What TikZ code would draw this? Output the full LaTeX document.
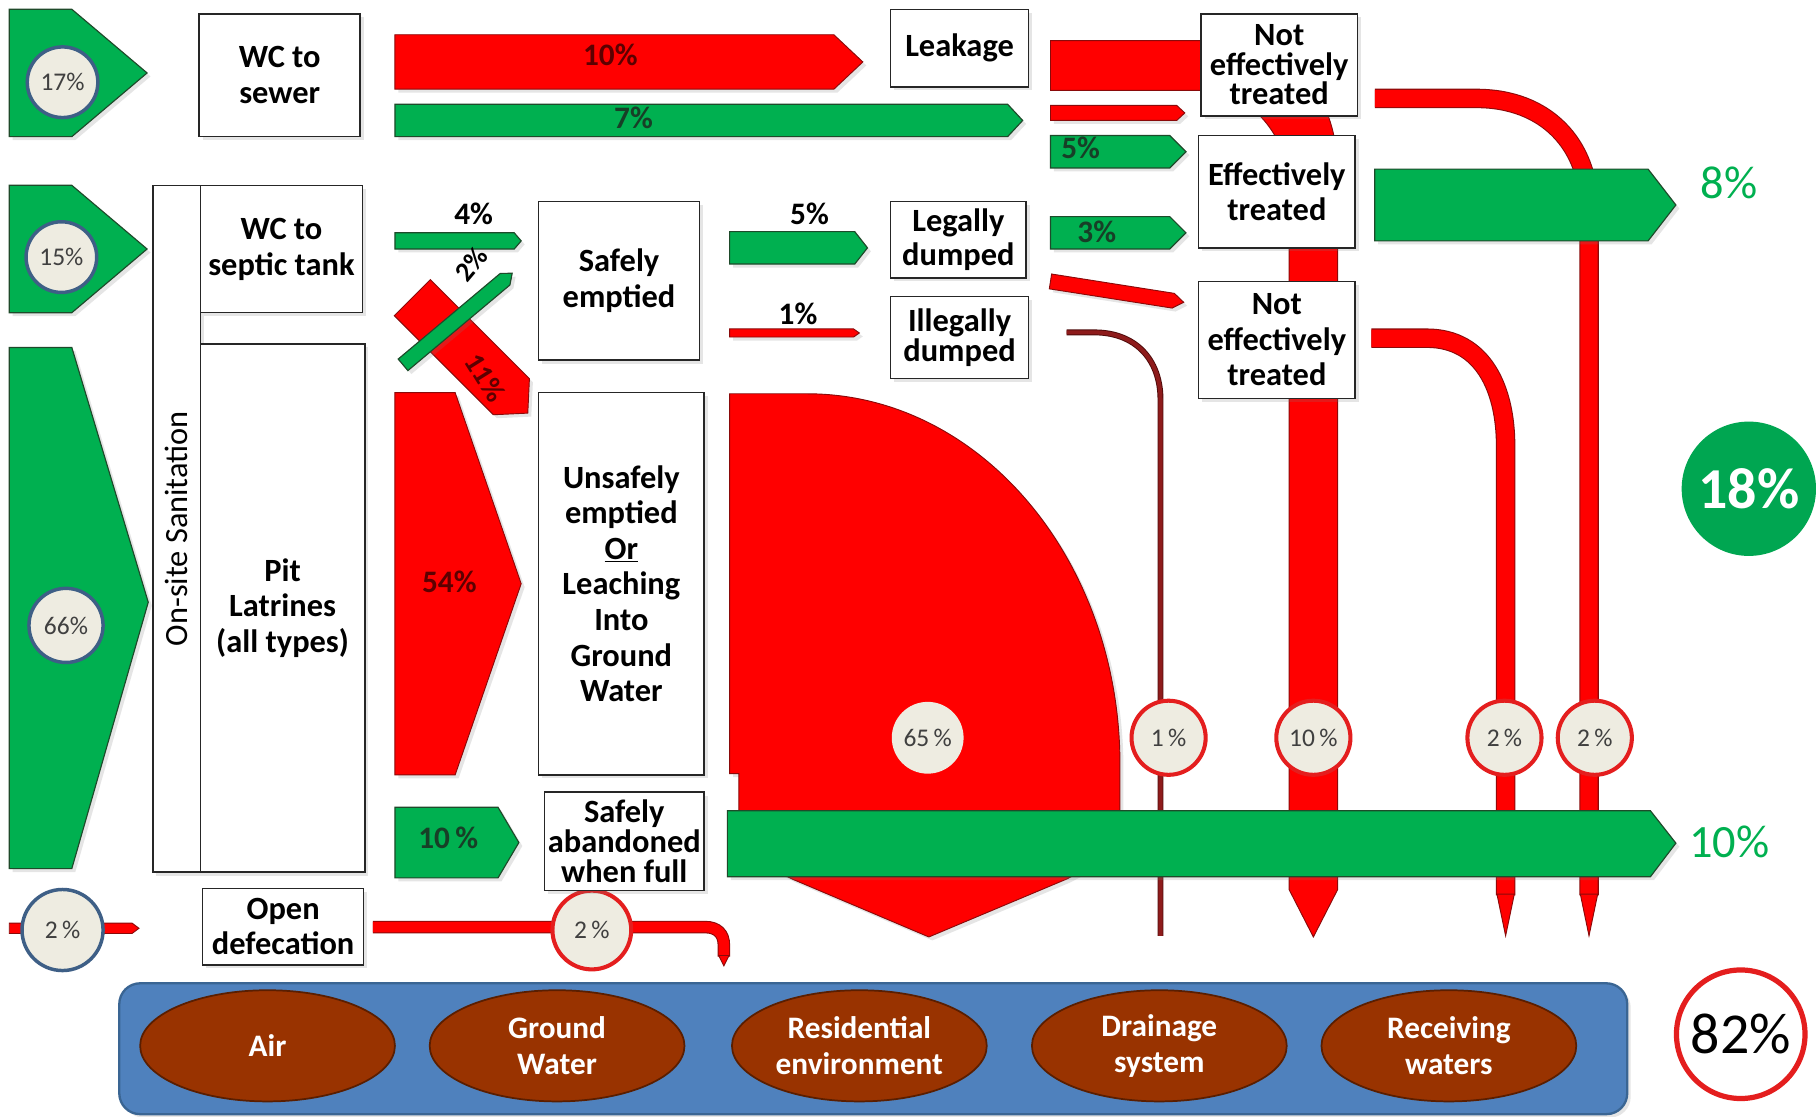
\documentclass[tikz,border=0pt]{standalone}
\usepackage{fontspec}
\setmainfont{Carlito}
\usetikzlibrary{shadows,shapes.geometric}

\definecolor{flowgreen}{HTML}{00B050}
\definecolor{flowgreenedge}{HTML}{1E4A2A}
\definecolor{flowred}{HTML}{FF0000}
\definecolor{flowrededge}{HTML}{8A0A0A}
\definecolor{labelgreen}{HTML}{173F27}
\definecolor{labelred}{HTML}{5C0000}
\definecolor{discfill}{HTML}{EEECE1}
\definecolor{discblue}{HTML}{3E5F86}
\definecolor{discred}{HTML}{E41E1E}
\definecolor{sinkblue}{HTML}{4F81BD}
\definecolor{sinkedge}{HTML}{3A6593}
\definecolor{sinkbrown}{HTML}{993300}
\definecolor{sinkbrownedge}{HTML}{5A1E00}
\definecolor{totalgreen}{HTML}{00A651}
\definecolor{drainred}{HTML}{8E1B1B}
\definecolor{drainedge}{HTML}{4E0A0A}

\begin{document}
\begin{tikzpicture}[x=1pt,y=-1pt,
  softshadow/.style={drop shadow={opacity=0.2,shadow xshift=3pt,shadow yshift=-3pt}},
  stagebox/.style={draw=black!85,line width=1.3pt,fill=white,inner sep=0pt,align=center,
     font=\bfseries\fontsize{28}{31}\selectfont,softshadow},
  gflow/.style={fill=flowgreen,draw=flowgreenedge,line width=1pt,softshadow},
  rflow/.style={fill=flowred,draw=flowrededge,line width=0.8pt,softshadow},
  rbody/.style={fill=flowred,draw=flowrededge,line width=0.8pt},
  pipe/.style={draw=flowrededge,line width=0.9pt,double=flowred,double distance=#1},
  disc/.style={circle,fill=discfill,inner sep=0pt,text=black!75,font=\fontsize{22}{24}\selectfont},
  bluedisc/.style={disc,draw=discblue,line width=3pt},
  reddisc/.style={disc,draw=discred,line width=3.5pt},
  flowlabel/.style={font=\bfseries\fontsize{27}{28}\selectfont,inner sep=0pt},
  sink/.style={ellipse,fill=sinkbrown,draw=sinkbrownedge,line width=1.5pt,
     minimum width=220pt,minimum height=96pt,text=white,align=center,
     font=\bfseries\fontsize{27}{31}\selectfont,inner sep=0pt},
  total/.style={font=\fontsize{40}{42}\selectfont,text=flowgreen,inner sep=0pt},
]
\fill[white] (0,0) rectangle (1568,964);
\useasboundingbox (0,0) rectangle (1568,964);

% ---------- receiving compartments ----------
\node[draw=sinkedge,line width=2pt,fill=sinkblue,rounded corners=18pt,
      minimum width=1302pt,minimum height=113pt,softshadow] (sinks) at (754,905.5) {};
\node[sink] (air)   at (231,903)  {Air};
\node[sink] (gw)    at (481,903)  {Ground\\Water};
\node[sink] (res)   at (742,903)  {Residential\\environment};
\node[sink] (drain) at (1001,903) {Drainage\\system};
\node[sink] (recv)  at (1251,903) {Receiving\\waters};

% ---------- sewer leakage band turning down into the drainage column ----------
\path[rbody] (907,35) -- (1045,35) .. controls (1115,35) and (1155,80) .. (1155,150)
  -- (1155,768) -- (1134,809) -- (1113,768) -- (1113,160)
  .. controls (1113,120) and (1080,78) .. (1040,78) -- (907,78) -- cycle;

% ---------- pipes to receiving waters ----------
\coordinate (pipeAstart) at (1187,85);
\coordinate (pipeAend) at (1372,773);
\draw[pipe=15pt] (pipeAstart) -- (1275,85) .. controls (1335,85) and (1372,125) .. (1372,180) -- (pipeAend);
\path[rbody] (1364.5,772) -- (1372,808) -- (1379.5,772) -- cycle;

\coordinate (pipeBstart) at (1184,292);
\coordinate (pipeBend) at (1300,773);
\draw[pipe=15pt] (pipeBstart) -- (1232,292) .. controls (1280,292) and (1300,335) .. (1300,385) -- (pipeBend);
\path[rbody] (1292.5,772) -- (1300,808) -- (1307.5,772) -- cycle;

% illegal dumping into the drainage system
\coordinate (drainstart) at (921,287);
\coordinate (drainend) at (1002,808);
\draw[draw=drainedge,line width=0.8pt,double=drainred,double distance=3.5pt]
  (drainstart) -- (945,287) .. controls (980,287) and (1002,310) .. (1002,345) -- (drainend);

% ---------- unsafe emptying / leaching mass ----------
\path[rflow] (630,340) -- (697,340) .. controls (846,340) and (967,483) .. (967,660)
  -- (967,735) -- (921,759) -- (802,809) -- (684,759) -- (638,735) -- (638,668) -- (630,668) -- cycle;

% ---------- safely contained outflow ----------
\path[gflow] (628,700) -- (1425,700) -- (1447,728) -- (1425,757) -- (628,757) -- cycle;
\path[gflow] (1187,146) -- (1423,146) -- (1447,177) -- (1423,208) -- (1187,208) -- cycle;

% ---------- open defecation ----------
\path[rbody] (8,797) -- (114,797) -- (120,801.5) -- (114,806) -- (8,806) -- cycle;
\coordinate (odstart) at (322,800.5);
\draw[pipe=9pt] (odstart) -- (609,800.5) .. controls (619,800.5) and (625,806) .. (625,816) -- (625,826);
\path[rbody] (620.5,825) -- (625,834) -- (629.5,825) -- cycle;

% ---------- inputs ----------
\path[gflow] (8,8) -- (62,8) -- (127,63) -- (62,118) -- (8,118) -- cycle;
\path[gflow] (8,160) -- (62,160) -- (127,215) -- (62,270) -- (8,270) -- cycle;
\path[gflow] (8,300) -- (62,300) -- (128,520) -- (62,750) -- (8,750) -- cycle;

% ---------- sewer flows ----------
\path[rflow] (341,30) -- (720,30) -- (745,53.5) -- (720,77) -- (341,77) -- cycle;
\node[flowlabel,text=labelred] at (527,47) {10\%};
\path[gflow] (341,90) -- (870,90) -- (883,104) -- (870,118) -- (341,118) -- cycle;
\node[flowlabel,text=labelgreen] at (547,102) {7\%};

\path[rflow] (907,91) -- (1016,91) -- (1023,97.5) -- (1016,104) -- (907,104) -- cycle;
\path[gflow] (907,117) -- (1010,117) -- (1024,131) -- (1010,145) -- (907,145) -- cycle;
\node[flowlabel,text=labelgreen] at (933,128) {5\%};
\path[gflow] (907,187) -- (1010,187) -- (1024,201) -- (1010,215) -- (907,215) -- cycle;
\node[flowlabel,text=labelgreen] at (947,200) {3\%};
\path[rflow] (908,236.6) -- (1014,253.3) -- (1022,261) -- (1012,266) -- (906,249.4) -- cycle;

% ---------- septic tank and pit flows ----------
\path[gflow] (341,201) -- (444,201) -- (450,208) -- (444,215) -- (341,215) -- cycle;
\node[flowlabel] at (409,185) {4\%};

\begin{scope}[shift={(356,257)},rotate=-45]
  \path[rflow] (0,-22) -- (121,-22) -- (141,0) -- (121,22) -- (0,22) -- cycle;
\end{scope}
\node[flowlabel,text=labelred,rotate=-58,font=\bfseries\fontsize{25}{26}\selectfont] at (419,326) {11\%};
\begin{scope}[shift={(348,315)},rotate=40]
  \path[gflow] (0,-6.5) -- (115,-6.5) -- (123,0) -- (115,6.5) -- (0,6.5) -- cycle;
\end{scope}
\node[flowlabel,rotate=50,font=\bfseries\fontsize{24}{25}\selectfont] at (407,228) {2\%};

\path[rflow] (341,339) -- (393,339) -- (450,504) -- (393,669) -- (341,669) -- cycle;
\node[flowlabel,text=labelred] at (388,502) {54\%};
\path[gflow] (341,697) -- (430,697) -- (448,727.5) -- (430,758) -- (341,758) -- cycle;
\node[flowlabel,text=labelgreen] at (387,723) {10\,\%};

\path[gflow] (630,200) -- (738,200) -- (749,214) -- (738,228) -- (630,228) -- cycle;
\node[flowlabel] at (699,185) {5\%};
\path[rflow] (630,284) -- (737,284) -- (742,287.5) -- (737,291) -- (630,291) -- cycle;
\node[flowlabel] at (689,271) {1\%};

% ---------- percentage discs ----------
\node[bluedisc,minimum size=61pt] (in17) at (54,71) {17\%};
\node[bluedisc,minimum size=61pt] (in15) at (53,222) {15\%};
\node[bluedisc,minimum size=64pt] (in66) at (57,540) {66\%};
\node[bluedisc,minimum size=70pt] (in2)  at (54,803) {2\,\%};
\node[reddisc,minimum size=68pt]  (od2)  at (511,803) {2\,\%};
\node[disc,minimum size=62pt]     (ue65) at (801,637) {65\,\%};
\node[reddisc,minimum size=64pt]  (dr1)  at (1009,637) {1\,\%};
\node[reddisc,minimum size=64pt]  (dr10) at (1134,637) {10\,\%};
\node[reddisc,minimum size=64pt]  (rw2a) at (1299,637) {2\,\%};
\node[reddisc,minimum size=64pt]  (rw2b) at (1377,637) {2\,\%};

% ---------- totals ----------
\node[total] (safe8) at (1493,158) {8\%};
\node[total] (safe10) at (1493,727) {10\%};
\node[circle,fill=totalgreen,minimum size=116pt,inner sep=0pt,text=white,
      font=\bfseries\fontsize{50}{52}\selectfont] (safe18) at (1510,422) {18\%};
\node[circle,fill=white,draw=discred,line width=4.5pt,minimum size=111pt,inner sep=0pt,
      font=\fontsize{50}{52}\selectfont] (unsafe82) at (1503,893) {82\%};

% ---------- stage boxes ----------
\node[stagebox,minimum width=139pt,minimum height=106pt] (sewer) at (241.5,65) {WC to\\sewer};
\node[draw=black!85,line width=1.3pt,fill=white,minimum width=41pt,minimum height=593pt,softshadow]
  (onsite) at (152.5,456.5) {};
\node[rotate=90,font=\fontsize{28}{30}\selectfont,inner sep=0pt] at (onsite.center) {On-site Sanitation};
\node[stagebox,minimum width=140pt,minimum height=110pt] (septic) at (243,215) {WC to\\septic tank};
\node[stagebox,minimum width=142pt,minimum height=456pt,font=\bfseries\fontsize{28}{30.5}\selectfont]
  (pit) at (244,525) {Pit\\Latrines\\(all types)};
\node[stagebox,minimum width=139pt,minimum height=66pt,font=\bfseries\fontsize{28}{30}\selectfont]
  (opendef) at (244.5,800) {Open\\defecation};

\node[stagebox,minimum width=139pt,minimum height=137pt] (safeemp) at (534.5,242.5) {Safely\\emptied};
\node[stagebox,minimum width=143pt,minimum height=330pt,font=\bfseries\fontsize{28}{30.7}\selectfont]
  (unsafeemp) at (536.5,504) {Unsafely\\emptied\\\underline{Or}\\Leaching\\Into\\Ground\\Water};
\node[stagebox,minimum width=138pt,minimum height=85pt,font=\bfseries\fontsize{28}{26}\selectfont]
  (abandon) at (539,726.5) {Safely\\abandoned\\when full};

\node[stagebox,minimum width=119pt,minimum height=67pt] (leak) at (828.5,41.5) {Leakage};
\node[stagebox,minimum width=117pt,minimum height=66pt,font=\bfseries\fontsize{28}{30}\selectfont]
  (legal) at (827.5,207) {Legally\\dumped};
\node[stagebox,minimum width=119pt,minimum height=71pt,font=\bfseries\fontsize{28}{26}\selectfont]
  (illegal) at (828.5,291.5) {Illegally\\dumped};

\node[stagebox,minimum width=135pt,minimum height=88pt,font=\bfseries\fontsize{28}{25.5}\selectfont]
  (noteff1) at (1104.5,56) {Not\\effectively\\treated};
\node[stagebox,minimum width=135pt,minimum height=97pt] (eff) at (1102.5,165.5) {Effectively\\treated};
\node[stagebox,minimum width=135pt,minimum height=101pt,font=\bfseries\fontsize{28}{30.5}\selectfont]
  (noteff2) at (1102.5,293.5) {Not\\effectively\\treated};
\end{tikzpicture}
\end{document}
